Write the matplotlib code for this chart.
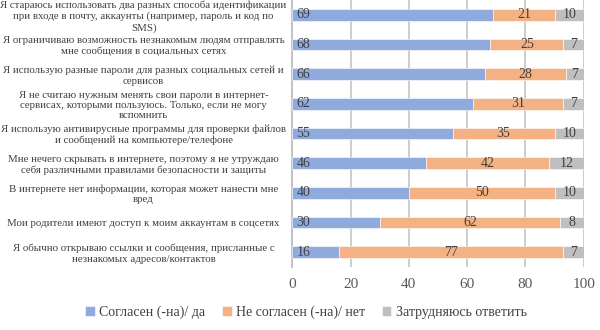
import numpy as np
import matplotlib
matplotlib.use('Agg')
import matplotlib.pyplot as plt

plt.rcParams['font.family'] = ['Liberation Serif', 'DejaVu Serif']

categories = [
    'Я стараюсь использовать два разных способа идентификации\nпри входе в почту, аккаунты (например, пароль и код по\nSMS)',
    'Я ограничиваю возможность незнакомым людям отправлять\nмне сообщения в социальных сетях',
    'Я использую разные пароли для разных социальных сетей и\nсервисов',
    'Я не считаю нужным менять свои пароли в интернет-\nсервисах, которыми пользуюсь. Только, если не могу\nвспомнить',
    'Я использую антивирусные программы для проверки файлов\nи сообщений на компьютере/телефоне',
    'Мне нечего скрывать в интернете, поэтому я не утруждаю\nсебя различными правилами безопасности и защиты',
    'В интернете нет информации, которая может нанести мне\nвред',
    'Мои родители имеют доступ к моим аккаунтам в соцсетях',
    'Я обычно открываю ссылки и сообщения, присланные с\nнезнакомых адресов/контактов',
]
agree = [69, 68, 66, 62, 55, 46, 40, 30, 16]
disagree = [21, 25, 28, 31, 35, 42, 50, 62, 77]
unsure = [10, 7, 7, 7, 10, 12, 10, 8, 7]
series_names = ['Согласен (-на)/ да', 'Не согласен (-на)/ нет', 'Затрудняюсь ответить']
colors = ['#8faadc', '#f4b183', '#bfbfbf']
xticks = [0, 20, 40, 60, 80, 100]

fig = plt.figure(figsize=(6, 3.3), dpi=100)
ax = fig.add_axes([0.487, 0.191, 0.486, 0.809])

y = np.arange(len(categories))
left = np.zeros(len(categories))
for vals, name, col in zip([agree, disagree, unsure], series_names, colors):
    vals = np.array(vals)
    ax.barh(y, vals, left=left, height=0.4, color=col, edgecolor='white',
            linewidth=0.4, label=name, zorder=3)
    for i, v in enumerate(vals):
        if col == colors[0]:
            ax.text(left[i] + 1.5, y[i], str(v), ha='left', va='center',
                    fontsize=10, color='#404040', zorder=4)
        else:
            end = min(left[i] + v, 100)
            ax.text((left[i] + end) / 2, y[i], str(v), ha='center', va='center',
                    fontsize=10, color='#404040', zorder=4)
    left = left + vals

ax.set_xlim(0, 100)
ax.set_ylim(len(categories) - 0.5, -0.5)
ax.set_xticks(xticks)
ax.set_yticks(y)
ax.set_yticklabels(categories, fontsize=7.8, color='#404040', ha='center',
                   linespacing=1.2)
ax.tick_params(axis='y', length=0, pad=107)
ax.tick_params(axis='x', length=0, labelsize=11, labelcolor='#595959', pad=8)
ax.grid(axis='x', color='#c8c8c8', linewidth=1.3, zorder=0)
for s in ['top', 'right', 'bottom']:
    ax.spines[s].set_visible(False)
ax.spines['left'].set_color('#bfbfbf')
ax.spines['left'].set_linewidth(1.3)

fig.legend(loc='lower center', bbox_to_anchor=(0.51, -0.005), ncol=3, frameon=False,
           fontsize=10, handlelength=0.7, handleheight=0.7, handletextpad=0.3,
           columnspacing=1.2, labelcolor='#404040')

fig.savefig('out.png', dpi=100)
